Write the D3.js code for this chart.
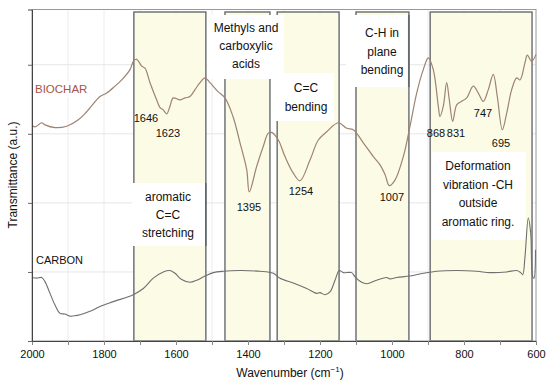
<!DOCTYPE html>
<html><head><meta charset="utf-8">
<script src="https://cdn.jsdelivr.net/npm/d3@7"></script>
<style>
html,body{margin:0;padding:0;background:#fff;}
svg{display:block;font-family:"Liberation Sans",Arial,sans-serif;}
</style></head>
<body><svg id="c" width="550" height="388"></svg>
<script>
// ---- data ----
const biocharWn = [2000,1991.7,1973.1,1963.9,1936.1,1903.6,1872.2,1848.1,1811.1,1792.5,1769.4,1750.8,1727.8,1718.6,1711.1,1705.6,1695.3,1686.1,1672.2,1653.6,1644.4,1636.1,1625.8,1616.7,1607.5,1588.9,1575,1561.1,1547.2,1533.3,1519.4,1505.6,1483.3,1463.9,1441.7,1422.2,1403.6,1396.4,1375.8,1357.5,1343.6,1334.2,1315.8,1297.2,1274.2,1255.6,1227.8,1204.7,1181.4,1149.2,1125.8,1107.5,1079.7,1051.9,1033.3,1019.4,1007.5,991.7,968.6,950,931.4,913.1,899.2,885.3,871.4,866.7,857.5,848.1,840.8,831.4,820.3,806.4,792.5,774.2,760.3,746.4,732.5,718.6,707.5,693.6,681.4,667.5,653.6,644.4,630.6,624.2,611.9,600];
const biocharVal = [3.13,3.10,3.16,3.13,3.09,3.11,3.20,3.32,3.54,3.59,3.69,3.78,3.93,4.05,4.08,4.06,3.98,3.95,3.74,3.49,3.38,3.35,3.29,3.40,3.52,3.49,3.52,3.54,3.64,3.74,3.81,3.74,3.61,3.52,3.25,2.87,2.48,2.16,2.53,2.82,3.01,3.02,2.91,2.67,2.43,2.32,2.62,2.91,3.03,3.16,3.08,3.06,2.87,2.67,2.55,2.41,2.25,2.33,2.67,3.11,3.59,3.93,4.10,3.93,3.40,3.25,3.40,3.74,3.49,3.18,3.42,3.47,3.52,3.69,3.59,3.47,3.64,3.86,3.54,3.06,3.30,3.64,3.81,3.78,4.03,4.14,4.05,4.15];
const carbonWn = [2000,1986.9,1973.1,1963.9,1950,1936.1,1922.2,1908.3,1894.4,1866.7,1838.9,1811.1,1774.2,1718.6,1690.8,1663.1,1635.3,1616.7,1602.8,1584.2,1561.1,1542.5,1519.4,1496.4,1468.6,1422.2,1366.7,1329.7,1311.1,1274.2,1236.9,1209.2,1200,1186.1,1172.2,1158.3,1146.4,1135.3,1111.9,1102.8,1084.2,1070.3,1042.5,1014.7,1005.6,986.9,950,913.1,875.8,820.3,764.7,727.8,681.4,653.6,642.5,636.9,630.6,621.4,614.7,609.2,605.6,601.4];
const carbonVal = [0.92,0.91,0.92,0.86,0.69,0.52,0.40,0.39,0.36,0.38,0.43,0.50,0.57,0.67,0.76,0.91,1.00,1.02,0.98,0.89,0.85,0.88,0.94,0.99,1.01,1.02,1.01,0.98,0.91,0.84,0.76,0.69,0.70,0.67,0.71,0.88,1.02,0.99,0.99,0.93,0.85,0.83,0.88,0.92,0.90,0.92,0.94,0.98,1.01,1.02,1.01,0.99,1.00,1.02,0.99,0.96,1.22,1.78,1.56,0.93,0.91,1.32];
const regionStart = [1717,1464,1319,1100,894];
const regionEnd   = [1517,1339,1147,953,611];
const regionLabels = [["aromatic","C=C","stretching"],["Methyls and","carboxylic","acids"],["C=C","bending"],["C-H in","plane","bending"],["Deformation","vibration -CH","outside","aromatic ring."]];
const peakLabels = ["1646","1623","1395","1254","1007","868","831","747","695"];
const xTickValues = [2000,1800,1600,1400,1200,1000,800,600];
const yTickValues = [0,1,2,3,4];
const seriesNames = ["BIOCHAR","CARBON"];

// ---- layout ----
const svg = d3.select("#c");
const L = 32, R = 536, T = 9.5, B = 341;
const x = d3.scaleLinear().domain([2000,600]).range([L,R]);
const y = d3.scaleLinear().domain([0,4.8]).range([B,T]);

// gridlines
const g = svg.append("g");
g.selectAll("line.vg").data(d3.range(1900,600,-100)).join("line")
  .attr("x1",d=>x(d)).attr("x2",d=>x(d)).attr("y1",T).attr("y2",B)
  .attr("stroke","#ececec").attr("stroke-width",1);
g.selectAll("line.hg").data(yTickValues.slice(1)).join("line")
  .attr("x1",L).attr("x2",R).attr("y1",d=>y(d)).attr("y2",d=>y(d))
  .attr("stroke","#e6e6e6").attr("stroke-width",1);

// regions
const regions = regionStart.map((s,i)=>({s, e: regionEnd[i], lab: regionLabels[i]}));
const regTop = 12;
svg.selectAll("rect.reg").data(regions).join("rect")
  .attr("x",d=>x(d.s)).attr("width",d=>x(d.e)-x(d.s))
  .attr("y",regTop).attr("height",B-regTop)
  .attr("fill","#fbfbe6").attr("stroke","#5a5f66").attr("stroke-width",1.3);

// frame
svg.append("rect").attr("x",L).attr("y",T).attr("width",R-L).attr("height",B-T)
  .attr("fill","none").attr("stroke","#999").attr("stroke-width",1);

// biochar line
const line = d3.line().x(d=>x(d[0])).y(d=>y(d[1])).curve(d3.curveCatmullRom.alpha(0.5));
svg.append("path").datum(biocharWn.map((w,i)=>[w,biocharVal[i]]))
  .attr("d",line).attr("fill","none").attr("stroke","#9e8373").attr("stroke-width",1.2);

// label boxes (white)
const boxes = [
  {x0:132,x1:205,y0:183,y1:246, cx:168, ys:[197,215,233]},
  {x0:207,x1:284,y0:15,y1:79, cx:246, ys:[28,46,64]},
  {x0:273,x1:334,y0:73,y1:121, cx:306, ys:[88,107]},
  {x0:346,x1:407,y0:15,y1:87, cx:382, ys:[33,52,70]},
  {x0:432,x1:526,y0:152,y1:240, cx:478, ys:[166,185,203,222]}
];
boxes.forEach((b,i)=>{
  svg.append("rect").attr("x",b.x0).attr("y",b.y0).attr("width",b.x1-b.x0).attr("height",b.y1-b.y0).attr("fill","#fff");
  svg.append("g").selectAll("text").data(regions[i].lab).join("text")
    .attr("x",b.cx).attr("y",(d,j)=>b.ys[j]).attr("dy","0.35em")
    .attr("text-anchor","middle").attr("font-size",12).attr("fill","#111").text(d=>d);
});
svg.append("line").attr("x1",x(regionEnd[0])).attr("x2",x(regionEnd[0])).attr("y1",183).attr("y2",246).attr("stroke","#5a5f66").attr("stroke-width",1.3);
svg.append("line").attr("x1",x(regionEnd[3])).attr("x2",x(regionEnd[3])).attr("y1",15).attr("y2",87).attr("stroke","#5a5f66").attr("stroke-width",1.3);

// carbon line (on top of boxes so the 620 spike shows)
svg.append("path").datum(carbonWn.map((w,i)=>[w,carbonVal[i]]))
  .attr("d",line).attr("fill","none").attr("stroke","#6f6f6f").attr("stroke-width",1.1);

// peak labels
const peakPos = [[146,118],[168,133],[249,207],[301,191],[392,197],[436,133],[456,133],[483,113],[501,143]];
svg.selectAll("text.pk").data(peakLabels).join("text")
  .attr("x",(d,i)=>peakPos[i][0]).attr("y",(d,i)=>peakPos[i][1]).attr("dy","0.35em")
  .attr("text-anchor","middle").attr("font-size",11).attr("fill","#111").text(d=>d);

// series labels
svg.append("rect").attr("x",33).attr("y",81).attr("width",50).attr("height",16).attr("fill","#fff");
svg.append("text").attr("x",35).attr("y",89).attr("dy","0.35em").attr("font-size",11.5)
  .attr("fill","#a9533f").text(seriesNames[0]);
svg.append("text").attr("x",36).attr("y",260).attr("dy","0.35em").attr("font-size",11)
  .attr("fill","#111").text(seriesNames[1]);

// axes
const xAxis = d3.axisBottom(x).tickValues(d3.range(2000,599,-100)).tickSize(4)
  .tickFormat(d=>xTickValues.includes(d)?d:"");
const ax = svg.append("g").attr("transform",`translate(0,${B})`).call(xAxis);
ax.select(".domain").attr("stroke","#444");
ax.selectAll(".tick line").attr("stroke","#888");
ax.selectAll("text").attr("font-size",11).attr("fill","#111").attr("font-family","Liberation Sans, Arial, sans-serif").attr("dy","0.95em");
const yAxis = d3.axisLeft(y).tickValues(yTickValues).tickSize(4).tickFormat("");
const ay = svg.append("g").attr("transform",`translate(${L},0)`).call(yAxis);
ay.select(".domain").attr("stroke","#444");
ay.selectAll(".tick line").attr("stroke","#666");

svg.append("text").attr("x",290).attr("y",373).attr("dy","0.35em").attr("text-anchor","middle")
  .attr("font-size",12).attr("fill","#111")
  .html('Wavenumber (cm<tspan dy="-5" font-size="8">−1</tspan><tspan dy="5">)</tspan>');
svg.append("text").attr("transform","translate(13,175) rotate(-90)").attr("dy","0.35em")
  .attr("text-anchor","middle").attr("font-size",12).attr("fill","#111").text("Transmittance (a.u.)");
</script></body></html>
